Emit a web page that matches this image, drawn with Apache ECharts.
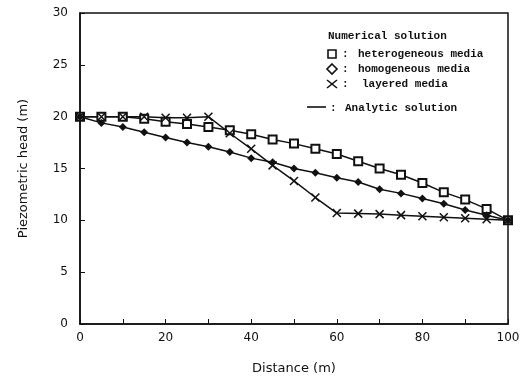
<!DOCTYPE html>
<html>
<head>
<meta charset="utf-8">
<script src="https://cdn.jsdelivr.net/npm/echarts@6/dist/echarts.min.js"></script>
<style>
  html, body { margin: 0; padding: 0; background: #fff; }
  #chart { width: 528px; height: 381px; }
</style>
</head>
<body>
<div id="chart"></div>
<script>
const distance = [0, 5, 10, 15, 20, 25, 30, 35, 40, 45, 50, 55, 60, 65, 70, 75, 80, 85, 90, 95, 100];
const heterogeneous = [20, 20.0, 20.0, 19.8, 19.5, 19.3, 19.0, 18.7, 18.3, 17.8, 17.4, 16.9, 16.4, 15.7, 15.0, 14.4, 13.6, 12.7, 12.0, 11.1, 10.0];
const homogeneous = [20, 19.4, 19.0, 18.5, 18.0, 17.5, 17.1, 16.6, 16.0, 15.6, 15.0, 14.6, 14.1, 13.7, 13.0, 12.6, 12.1, 11.6, 11.0, 10.5, 10.0];
const layered = [20, 20, 20, 20, 19.9, 19.9, 20.0, 18.4, 16.9, 15.3, 13.8, 12.2, 10.7, 10.65, 10.6, 10.5, 10.4, 10.3, 10.2, 10.1, 10.0];

const legendTitle = "Numerical solution";
const legendNames = ["heterogeneous media", "homogeneous media", "layered media"];
const analyticLabel = "Analytic solution";

const pair = (ys) => distance.map((x, i) => [x, ys[i]]);

const chart = echarts.init(document.getElementById("chart"));

const axisFont = { color: "#111", fontFamily: "DejaVu Sans", fontSize: 12 };
const lf = { fill: "#111", fontFamily: "Liberation Mono", fontWeight: "bold", fontSize: 11, verticalAlign: "middle" };
const stroke = { fill: "none", stroke: "#111", lineWidth: 1.6 };

// legend rows (y centres), symbol column x centre
const rowY = [54, 69, 84];
const sx = 332;

const legendGraphics = [
  { type: "text", x: 328, y: 36, style: { text: legendTitle, ...lf } },
  { type: "rect", shape: { x: sx - 4, y: rowY[0] - 4, width: 8, height: 8 }, style: stroke },
  { type: "polygon", shape: { points: [[sx, rowY[1] - 5], [sx + 5, rowY[1]], [sx, rowY[1] + 5], [sx - 5, rowY[1]]] }, style: stroke },
  { type: "polyline", shape: { points: [[sx - 5, rowY[2] - 4], [sx + 5, rowY[2] + 4]] }, style: stroke },
  { type: "polyline", shape: { points: [[sx + 5, rowY[2] - 4], [sx - 5, rowY[2] + 4]] }, style: stroke },
  { type: "line", shape: { x1: 307, y1: 107, x2: 326, y2: 107 }, style: stroke },
  { type: "text", x: 330, y: 108, style: { text: ":", ...lf } },
  { type: "text", x: 345, y: 108, style: { text: analyticLabel, ...lf } },
];
legendNames.forEach((name, i) => {
  legendGraphics.push({ type: "text", x: 342, y: rowY[i], style: { text: ":", ...lf } });
  legendGraphics.push({ type: "text", x: i === 2 ? 362 : 358, y: rowY[i], style: { text: name, ...lf } });
});

const option = {
  animation: false,
  grid: {
    left: 80,
    right: 20,
    top: 13,
    bottom: 57,
    show: true,
    borderColor: "#111",
    borderWidth: 1.5,
  },
  xAxis: {
    type: "value",
    min: 0,
    max: 100,
    interval: 10,
    name: "Distance (m)",
    nameLocation: "middle",
    nameGap: 38,
    nameTextStyle: { ...axisFont, fontSize: 13 },
    axisLine: { lineStyle: { color: "#111", width: 1.5 } },
    axisTick: { inside: true, length: 5, lineStyle: { color: "#111" } },
    axisLabel: {
      ...axisFont,
      margin: 8,
      formatter: (v) => (v % 20 === 0 ? String(v) : ""),
    },
    splitLine: { show: false },
  },
  yAxis: {
    type: "value",
    min: 0,
    max: 30,
    interval: 5,
    name: "Piezometric head (m)",
    nameLocation: "middle",
    nameGap: 50,
    nameTextStyle: { ...axisFont, fontSize: 13 },
    axisLine: { show: true, lineStyle: { color: "#111", width: 1.5 } },
    axisTick: { inside: true, length: 5, lineStyle: { color: "#111" } },
    axisLabel: { ...axisFont, margin: 12 },
    splitLine: { show: false },
  },
  series: [
    {
      name: "heterogeneous media",
      type: "line",
      data: pair(heterogeneous),
      symbol: "emptyRect",
      symbolSize: 8,
      lineStyle: { color: "#111", width: 1.5 },
      itemStyle: { color: "#111", borderWidth: 1.5 },
    },
    {
      name: "homogeneous media",
      type: "line",
      data: pair(homogeneous),
      symbol: "diamond",
      symbolSize: 8,
      lineStyle: { color: "#111", width: 1.5 },
      itemStyle: { color: "#111" },
    },
    {
      name: "layered media",
      type: "line",
      data: pair(layered),
      symbol: "path://M0,0L10,10M10,0L0,10",
      symbolSize: 8,
      lineStyle: { color: "#111", width: 1.5 },
      itemStyle: { color: "#111", borderColor: "#111", borderWidth: 1.5 },
    },
  ],
  graphic: legendGraphics,
};

chart.setOption(option);
</script>
</body>
</html>
